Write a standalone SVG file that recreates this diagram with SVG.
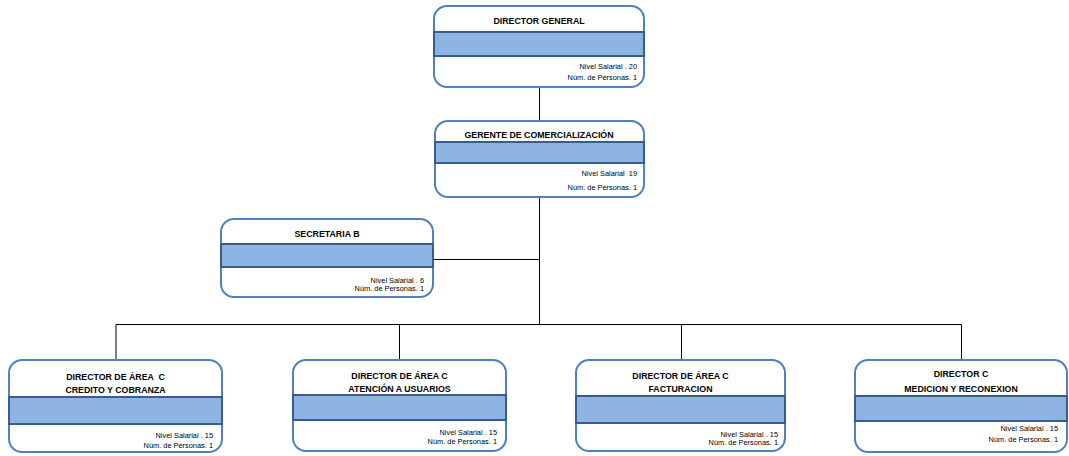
<svg xmlns="http://www.w3.org/2000/svg" width="1069" height="456" viewBox="0 0 1069 456">
<style>
.box{fill:#fff;stroke:#4F81BD;stroke-width:2}
.bar{fill:#8DB3E2;stroke:#385D8A;stroke-width:2}
.t{font-family:"Liberation Sans",Arial,sans-serif;font-weight:bold;font-size:8.8px;fill:#000;text-anchor:middle;white-space:pre}
.s{font-family:"Liberation Sans",Arial,sans-serif;font-size:7.4px;fill:#000;text-anchor:end;white-space:pre}
.c{stroke:#000;stroke-width:1;fill:none}
</style>
<rect width="1069" height="456" fill="#fff"/>
<g id="connectors">
<path class="c" d="M539.5 87V121M539.5 197V324.5M433 259.5H539.5M116 324.5H961.5M116 324.5V360M399.5 324.5V360M681.5 324.5V360M961.5 324.5V360"/>
</g>
<g id="director-general">
<rect class="box" x="434" y="6" width="210" height="81" rx="13"/>
<rect class="bar" x="434" y="32" width="210" height="24"/>
<text class="t" x="539" y="24">DIRECTOR GENERAL</text>
<text class="s" x="637" y="68.5">Nivel Salarial . 20</text>
<text class="s" x="637" y="79.5">Núm. de Personas. 1</text>
</g>
<g id="gerente">
<rect class="box" x="435" y="121" width="209" height="76" rx="13"/>
<rect class="bar" x="435" y="142" width="209" height="21"/>
<text class="t" x="539" y="137.5">GERENTE DE COMERCIALIZACIÓN</text>
<text class="s" x="637" y="175.5">Nivel Salarial  19</text>
<text class="s" x="637" y="189.5">Núm. de Personas. 1</text>
</g>
<g id="secretaria">
<rect class="box" x="221" y="219" width="212" height="78" rx="13"/>
<rect class="bar" x="221" y="244" width="212" height="23"/>
<text class="t" x="327" y="236.5">SECRETARIA B</text>
<text class="s" x="424" y="283">Nivel Salarial . 6</text>
<text class="s" x="424" y="291">Núm. de Personas. 1</text>
</g>
<g id="credito">
<rect class="box" x="9" y="360" width="213" height="92" rx="13"/>
<rect class="bar" x="9" y="397" width="213" height="27"/>
<text class="t" x="115.5" y="379.5">DIRECTOR DE ÁREA  C</text>
<text class="t" x="115.5" y="392.5">CREDITO Y COBRANZA</text>
<text class="s" x="213" y="437.5">Nivel Salarial . 15</text>
<text class="s" x="213" y="447.5">Núm. de Personas. 1</text>
</g>
<g id="atencion">
<rect class="box" x="293" y="360" width="213" height="91" rx="13"/>
<rect class="bar" x="293" y="395" width="213" height="25"/>
<text class="t" x="399.5" y="378.5">DIRECTOR DE ÁREA C</text>
<text class="t" x="399.5" y="391.5">ATENCIÓN A USUARIOS</text>
<text class="s" x="497" y="434.5">Nivel Salarial . 15</text>
<text class="s" x="497" y="443.5">Núm. de Personas. 1</text>
</g>
<g id="facturacion">
<rect class="box" x="576" y="360" width="209" height="91" rx="13"/>
<rect class="bar" x="576" y="396" width="209" height="27"/>
<text class="t" x="680.5" y="378.5">DIRECTOR DE ÁREA C</text>
<text class="t" x="680.5" y="391.5">FACTURACION</text>
<text class="s" x="778" y="436.5">Nivel Salarial . 15</text>
<text class="s" x="778" y="444.5">Núm. de Personas. 1</text>
</g>
<g id="medicion">
<rect class="box" x="855" y="360" width="212" height="92" rx="13"/>
<rect class="bar" x="855" y="396" width="212" height="25"/>
<text class="t" x="961" y="376.5">DIRECTOR C</text>
<text class="t" x="961" y="391.5">MEDICION Y RECONEXION</text>
<text class="s" x="1058" y="430.5">Nivel Salarial . 15</text>
<text class="s" x="1058" y="441.5">Núm. de Personas. 1</text>
</g>
</svg>
